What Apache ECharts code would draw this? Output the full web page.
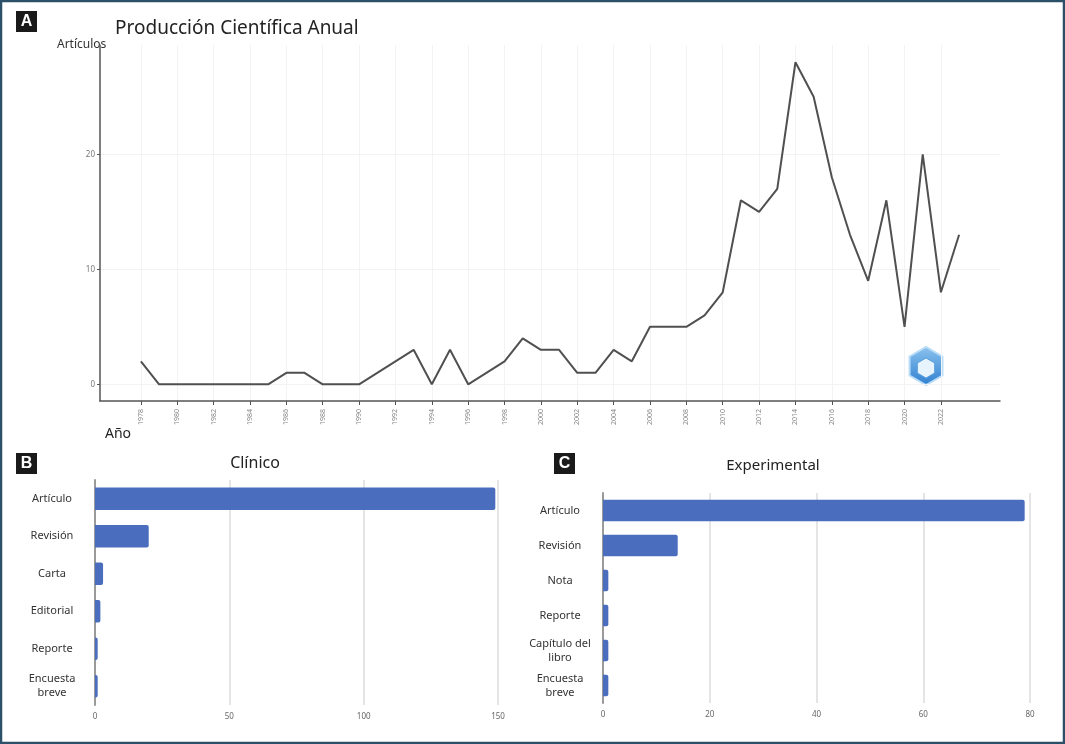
<!DOCTYPE html>
<html>
<head>
<meta charset="utf-8">
<title>Producción Científica Anual</title>
<script src="https://cdn.jsdelivr.net/npm/echarts@6/dist/echarts.min.js"></script>
<style>
  html, body { margin: 0; padding: 0; background: #fff; }
  #main { width: 1065px; height: 744px; }
</style>
</head>
<body>
<div id="main"></div>
<script>
// datos del panel A: artículos por año
var years = [];
for (var y = 1978; y <= 2023; y++) years.push(y);
var articlesPerYear = [2, 0, 0, 0, 0, 0, 0, 0, 1, 1, 0, 0, 0, 1, 2, 3, 0, 3, 0, 1,
                       2, 4, 3, 3, 1, 1, 3, 2, 5, 5, 5, 6, 8, 16, 15, 17, 28, 25, 18, 13,
                       9, 16, 5, 20, 8, 13];
var yearTicks = [];
for (var t = 1978; t <= 2022; t += 2) yearTicks.push(t);
var countTicks = [0, 10, 20];

// panel B: clínico
var clinicoCats = ['Artículo', 'Revisión', 'Carta', 'Editorial', 'Reporte', 'Encuesta\nbreve'];
var clinicoVals = [149, 20, 3, 2, 1, 1];

// panel C: experimental
var expCats = ['Artículo', 'Revisión', 'Nota', 'Reporte', 'Capítulo del\nlibro', 'Encuesta\nbreve'];
var expVals = [79, 14, 1, 1, 1, 1];

var FONT = 'Noto Sans';
var BAR = '#4a6ebd';

var myChart = echarts.init(document.getElementById('main'));

// hexágono del logo (decoración)
function hexPoints(cx, cy, r) {
  var pts = [];
  for (var i = 0; i < 6; i++) {
    var a = Math.PI / 6 + i * Math.PI / 3;
    pts.push([cx + r * Math.cos(a), cy + r * Math.sin(a)]);
  }
  return pts;
}

function panelLabel(letter, x, y) {
  return {
    type: 'group', left: x, top: y,
    children: [
      { type: 'rect', shape: { x: 0, y: 0, width: 21, height: 21 }, style: { fill: '#1a1a1a' } },
      { type: 'text', style: { text: letter, x: 10.5, y: 11, align: 'center', verticalAlign: 'middle',
        fill: '#fff', font: 'bold 16px Arial' } }
    ]
  };
}

var catAxisLabel = {
  color: '#333', fontSize: 11, fontFamily: FONT, align: 'center', margin: 43, lineHeight: 14
};
var valAxisLabel = { color: '#666', fontSize: 8, fontFamily: FONT, margin: 8 };

var option = {
  animation: false,
  textStyle: { fontFamily: FONT },
  title: [
    { text: 'Producción Científica Anual', left: 110, top: 14,
      textStyle: { fontSize: 19, fontWeight: 'normal', color: '#222', fontFamily: FONT } },
    { text: 'Clínico', left: 250, top: 450, textAlign: 'center',
      textStyle: { fontSize: 16, fontWeight: 'normal', color: '#222', fontFamily: FONT } },
    { text: 'Experimental', left: 768, top: 453, textAlign: 'center',
      textStyle: { fontSize: 15, fontWeight: 'normal', color: '#222', fontFamily: FONT } }
  ],
  grid: [
    { left: 100, top: 45, width: 900, height: 356 },
    { left: 95, top: 480, width: 403, height: 225 },
    { left: 603, top: 493, width: 427, height: 210 }
  ],
  xAxis: [
    {
      gridIndex: 0, type: 'value', min: 1975.75, max: 2025.25,
      axisLine: { show: true, onZero: false, lineStyle: { color: '#555', width: 1.5 } },
      axisTick: { show: true, customValues: yearTicks, length: 4, lineStyle: { color: '#555' } },
      axisLabel: { customValues: yearTicks, rotate: 90, fontSize: 7, color: '#888', margin: 8,
        formatter: function (v) { return String(v); } },
      splitLine: { show: true, lineStyle: { color: '#f3f3f3' } }
    },
    {
      gridIndex: 1, type: 'value', min: 0, max: 150, interval: 50,
      axisLine: { show: false }, axisTick: { show: false },
      axisLabel: valAxisLabel,
      splitLine: { show: true, lineStyle: { color: '#dcdcdc', width: 1.5 } }
    },
    {
      gridIndex: 2, type: 'value', min: 0, max: 80, interval: 20,
      axisLine: { show: false }, axisTick: { show: false },
      axisLabel: valAxisLabel,
      splitLine: { show: true, lineStyle: { color: '#dcdcdc', width: 1.5 } }
    }
  ],
  yAxis: [
    {
      gridIndex: 0, type: 'value', min: -1.45, max: 29.5,
      axisLine: { show: true, onZero: false, lineStyle: { color: '#555', width: 1.5 } },
      axisTick: { show: true, customValues: countTicks, length: 3, lineStyle: { color: '#555' } },
      axisLabel: { customValues: countTicks, fontSize: 8, color: '#777', margin: 5 },
      splitLine: { show: true, lineStyle: { color: '#f3f3f3' } }
    },
    {
      gridIndex: 1, type: 'category', data: clinicoCats, inverse: true,
      axisLine: { show: true, lineStyle: { color: '#9a9a9a', width: 2 } },
      axisTick: { show: false },
      axisLabel: catAxisLabel
    },
    {
      gridIndex: 2, type: 'category', data: expCats, inverse: true,
      axisLine: { show: true, lineStyle: { color: '#9a9a9a', width: 2 } },
      axisTick: { show: false },
      axisLabel: catAxisLabel
    }
  ],
  series: [
    {
      type: 'line', xAxisIndex: 0, yAxisIndex: 0,
      data: years.map(function (yr, i) { return [yr, articlesPerYear[i]]; }),
      showSymbol: false, symbol: 'none',
      lineStyle: { color: '#505050', width: 2 }
    },
    {
      type: 'bar', xAxisIndex: 1, yAxisIndex: 1, data: clinicoVals,
      barWidth: '60%', itemStyle: { color: BAR, borderRadius: [0, 2, 2, 0] }
    },
    {
      type: 'bar', xAxisIndex: 2, yAxisIndex: 2, data: expVals,
      barWidth: '62%', itemStyle: { color: BAR, borderRadius: [0, 2, 2, 0] }
    }
  ],
  graphic: [
    { type: 'rect', shape: { x: 1, y: 1, width: 1063, height: 742 },
      style: { fill: 'none', stroke: '#2d5069', lineWidth: 2.5 } },
    panelLabel('A', 16, 11),
    panelLabel('B', 16, 453),
    panelLabel('C', 554, 453),
    { type: 'text', left: 57, top: 39,
      style: { text: 'Artículos', font: '12px "Noto Sans"', fill: '#333' } },
    { type: 'text', left: 105, top: 427,
      style: { text: 'Año', font: '14px "Noto Sans"', fill: '#222' } },
    { type: 'polygon', shape: { points: hexPoints(926, 366, 19) },
      style: { fill: new echarts.graphic.LinearGradient(0, 0, 0, 1, [
        { offset: 0, color: '#8cc3ef' }, { offset: 1, color: '#2f7fd0' }]),
        stroke: '#b9dcf7', lineWidth: 2 } },
    { type: 'polygon', shape: { points: hexPoints(926, 368, 10) },
      style: { fill: '#e8f4fd', stroke: '#5aa0e0', lineWidth: 1 } }
  ]
};

myChart.setOption(option);
</script>
</body>
</html>
